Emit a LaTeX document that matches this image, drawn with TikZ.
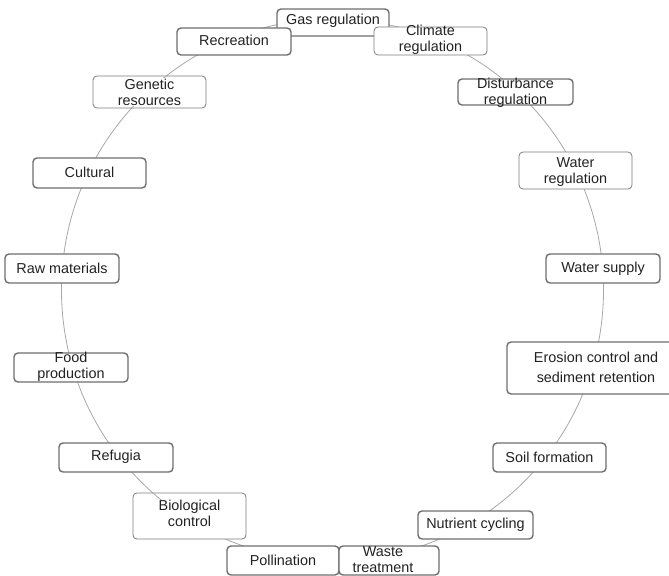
\documentclass[tikz,border=0pt]{standalone}
\usepackage{fontspec}
\setmainfont{Liberation Sans}
\usetikzlibrary{calc}
\definecolor{ringc}{HTML}{A8A8A8}
\definecolor{thickc}{HTML}{6E6E6E}
\definecolor{thinc}{HTML}{7C7C7C}
\definecolor{txtc}{HTML}{222222}
\begin{document}
\begin{tikzpicture}[x=1bp,y=-1bp,
 box/.style={draw=thickc, line width=1.4bp, rounded corners=4bp, fill=white, inner sep=0pt, outer sep=0pt},
 thinbox/.style={box, draw=thinc, line width=0.8bp},
 lbl/.style={text=txtc, font=\fontsize{14.4bp}{16bp}\selectfont, align=center, inner sep=0.5bp},
 lblw/.style={lbl, fill=white},
 ring/.style={draw=ringc, line width=0.8bp}]
\useasboundingbox (0,0) rectangle (669,576);
\coordinate (c) at (332.5,290);
\draw[ring] (c) circle[radius=271bp];
% boxes
\node[box, minimum width=112bp, minimum height=27bp] (gas) at (333,22.5) {};
\node[box, minimum width=114bp, minimum height=27bp] (rec) at (234,41.5) {};
\node[thinbox, minimum width=113bp, minimum height=28bp] (clim) at (430.5,41) {};
\node[thinbox, minimum width=113bp, minimum height=32bp] (gen) at (149.5,92) {};
\node[box, minimum width=115bp, minimum height=26bp] (dist) at (515.5,92) {};
\node[box, minimum width=113bp, minimum height=30bp] (cult) at (89.5,173) {};
\node[thinbox, minimum width=113bp, minimum height=37bp] (wreg) at (575.5,170.5) {};
\node[box, minimum width=114bp, minimum height=29bp] (raw) at (62,268.5) {};
\node[box, minimum width=114bp, minimum height=29bp] (wsup) at (603,268.5) {};
\node[box, minimum width=114bp, minimum height=29bp] (food) at (71,367.5) {};
\node[box, minimum width=178bp, minimum height=52bp] (eros) at (596,368) {};
\node[box, minimum width=114bp, minimum height=29bp] (ref) at (116,457.5) {};
\node[box, minimum width=113bp, minimum height=29bp] (soil) at (549.5,457.5) {};
\node[thinbox, minimum width=113bp, minimum height=46bp] (bio) at (189.5,516) {};
\node[box, minimum width=115bp, minimum height=28bp] (nut) at (475.5,525) {};
\node[box, minimum width=112bp, minimum height=29bp] (poll) at (283,560.5) {};
\node[box, minimum width=100bp, minimum height=29bp] (waste) at (389,560.5) {};
% ring visible inside some boxes
\begin{scope}
\clip (93,76) rectangle (206,108);
\draw[ring] (c) circle[radius=271bp];
\end{scope}
\begin{scope}
\clip (133,493) rectangle (246,501);
\draw[ring] (c) circle[radius=271bp];
\end{scope}
% labels
\node[lbl] (gas-t) at ($(gas)+(0,-1.5)$) {Gas regulation};
\node[lbl] (rec-t) at ($(rec)+(0,-1.5)$) {Recreation};
\node[lbl] (clim-t) at ($(clim)+(0,-1)$) {Climate\\regulation};
\node[lblw] (gen-t) at (gen) {Genetic\\resources};
\node[lbl] (dist-t) at ($(dist)+(0,0.5)$) {Disturbance\\regulation};
\node[lbl] (cult-t) at ($(cult)+(0,-1)$) {Cultural};
\node[lbl] (wreg-t) at ($(wreg)+(0,1.5)$) {Water\\regulation};
\node[lbl] (raw-t) at (raw) {Raw materials};
\node[lbl] (wsup-t) at (wsup) {Water supply};
\node[lbl] (food-t) at ($(food)+(0,-0.5)$) {Food\\production};
\node[lbl, font=\fontsize{14.4bp}{20bp}\selectfont] (eros-t) at ($(eros)+(0,-1)$) {Erosion control and\\sediment retention};
\node[lbl] (ref-t) at ($(ref)+(0,-0.5)$) {Refugia};
\node[lbl] (soil-t) at ($(soil)+(0,-0.5)$) {Soil formation};
\node[lblw] (bio-t) at ($(bio)+(0,-2.5)$) {Biological\\control};
\node[lbl] (nut-t) at (nut) {Nutrient cycling};
\node[lbl] (poll-t) at (poll) {Pollination};
\node[lbl] (waste-t) at ($(waste)+(-6,-1)$) {Waste\\treatment};
\end{tikzpicture}
\end{document}
